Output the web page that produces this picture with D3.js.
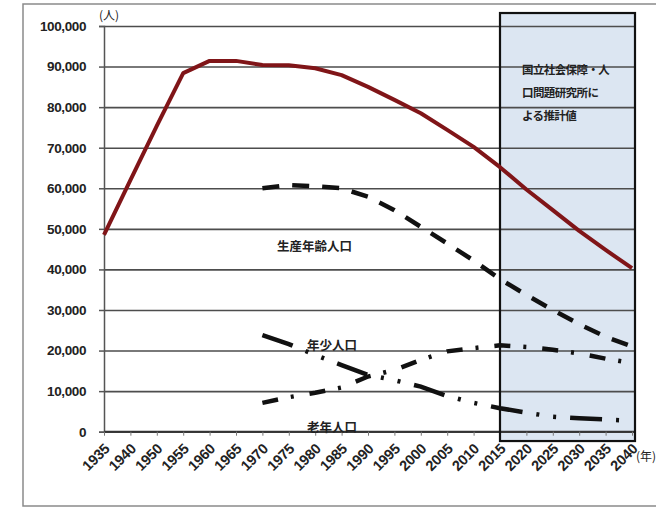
<!DOCTYPE html>
<html>
<head>
<meta charset="utf-8">
<script src="https://cdn.jsdelivr.net/npm/d3@7"></script>
<style>
  body { margin: 0; background: #fff; }
  svg text { font-family: "Liberation Sans", Arial, sans-serif; }
  .jp { font-family: "Noto Sans CJK JP", sans-serif; }
</style>
</head>
<body>
<svg id="chart"></svg>
<script>
// years on the category axis (no 1945 in the source)
let years = ["1935","1940","1950","1955","1960","1965","1970","1975","1980","1985","1990",
             "1995","2000","2005","2010","2015","2020","2025","2030","2035","2040"];
let yTicks = [0,10000,20000,30000,40000,50000,60000,70000,80000,90000,100000];

// total population
let totalPop = [48500,62000,75400,88400,91400,91400,90400,90300,89600,87900,85000,
                81800,78500,74400,70200,65200,59700,54600,49500,44800,40300];
// 15-64
let workingPop = [null,null,null,null,null,null,60000,60800,60500,60000,57900,
                  54600,50500,46400,42200,37600,33700,30000,26500,23400,21000];
// 0-14 (falling line)
let youngPop = [null,null,null,null,null,null,23800,21600,18900,16400,14000,
                12700,11100,8800,7100,5800,4700,3700,3300,3000,2700];
// 65+ (rising line)
let oldPop = [null,null,null,null,null,null,7100,8500,9600,10900,13600,
              15200,17700,19800,20600,21300,20900,20200,19300,18000,16900];

let projFrom = "2015";
let projText = ["国立社会保障・人", "口問題研究所に", "よる推計値"];

let svg = d3.select("svg#chart").attr("width", 656).attr("height", 508);

// outer frame
svg.append("rect").attr("x", 23).attr("y", 4).attr("width", 660).attr("height", 502)
  .attr("fill", "none").attr("stroke", "#8a8a8a").attr("stroke-width", 1.5);

let x = d3.scalePoint().domain(years).range([104, 632]);
let y = d3.scaleLinear().domain([0, 100000]).range([431.7, 26]);

// projection box
svg.append("rect")
  .attr("x", x(projFrom)).attr("y", y(103200))
  .attr("width", x("2040") - x(projFrom) + 3).attr("height", y(-2300) - y(103200))
  .attr("fill", "#dce6f2");

// gridlines
let yGrid = d3.axisLeft(y).tickValues(yTicks).tickSize(-(x("2040") - 104 + 3)).tickFormat("");
let gridG = svg.append("g").attr("transform", "translate(104,0)").call(yGrid);
gridG.select(".domain").remove();
gridG.selectAll("line").attr("stroke", "#4d4d4d").attr("stroke-width", 1.6);

// y axis
let yAxis = d3.axisLeft(y).tickValues(yTicks).tickSize(5).tickPadding(13)
  .tickFormat(d3.format(","));
let yG = svg.append("g").attr("transform", "translate(104,0)").call(yAxis);
yG.select(".domain").attr("stroke", "#555").attr("stroke-width", 1.5);
yG.selectAll("line").attr("stroke", "#555").attr("stroke-width", 1.5);
yG.selectAll("text").style("font-size", "13.5px").attr("fill", "#222")
  .style("font-weight", "bold").attr("letter-spacing", "-0.4");

// x axis
let xAxis = d3.axisBottom(x).tickSize(4).tickFormat("");
let xG = svg.append("g").attr("transform", "translate(0," + y(0) + ")").call(xAxis);
xG.select(".domain").attr("stroke", "#333").attr("stroke-width", 2).attr("d", "M104,0H635");
xG.selectAll("line").attr("stroke", "#777");

svg.append("g").selectAll("text").data(years).join("text")
  .attr("transform", d => "translate(" + (x(d) + 3) + ",446)rotate(-45)")
  .attr("text-anchor", "end").attr("dy", "0.35em")
  .style("font-size", "14.5px").style("font-weight", "bold").attr("fill", "#222")
  .attr("letter-spacing", "-0.2")
  .text(d => d);

// box border on top of gridlines
svg.append("rect")
  .attr("x", x(projFrom)).attr("y", y(103200))
  .attr("width", x("2040") - x(projFrom) + 3).attr("height", y(-2300) - y(103200))
  .attr("fill", "none").attr("stroke", "#111").attr("stroke-width", 2.2);

svg.append("g").selectAll("text").data(projText).join("text")
  .attr("class", "jp").attr("x", 522).attr("y", (d, i) => 74 + i * 23)
  .style("font-size", "11.5px").style("font-weight", "bold").attr("fill", "#222")
  .attr("letter-spacing", "-0.6")
  .text(d => d);

// series
let line = d3.line()
  .defined(d => d.v !== null)
  .x(d => x(d.year))
  .y(d => y(d.v));
function pts(arr) { return years.map((yr, i) => ({ year: yr, v: arr[i] })); }

svg.append("path").datum(pts(workingPop)).attr("d", line)
  .attr("fill", "none").attr("stroke", "#111").attr("stroke-width", 4.5)
  .attr("stroke-dasharray", "17,13");
svg.append("path").datum(pts(youngPop)).attr("d", line)
  .attr("fill", "none").attr("stroke", "#111").attr("stroke-width", 4.5)
  .attr("stroke-dasharray", "32,14,3,14,3,14");
svg.append("path").datum(pts(oldPop)).attr("d", line)
  .attr("fill", "none").attr("stroke", "#111").attr("stroke-width", 4.5)
  .attr("stroke-dasharray", "16,13,3,16");
svg.append("path").datum(pts(totalPop)).attr("d", line)
  .attr("fill", "none").attr("stroke", "#801518").attr("stroke-width", 4)
  .attr("stroke-linejoin", "round");

// series labels
let labels = [
  { t: "生産年齢人口", x: 277, y: 251 },
  { t: "年少人口", x: 307, y: 350 },
  { t: "老年人口", x: 307, y: 432 }
];
svg.append("g").selectAll("text").data(labels).join("text")
  .attr("class", "jp").attr("x", d => d.x).attr("y", d => d.y)
  .style("font-size", "12.5px").style("font-weight", "bold").attr("fill", "#222")
  .text(d => d.t);

// units
svg.append("text").attr("class", "jp").attr("x", 99).attr("y", 20)
  .style("font-size", "12px").attr("fill", "#222").text("(人)");
svg.append("text").attr("class", "jp").attr("x", 636).attr("y", 461)
  .style("font-size", "12px").attr("fill", "#222").text("(年)");
</script>
</body>
</html>
